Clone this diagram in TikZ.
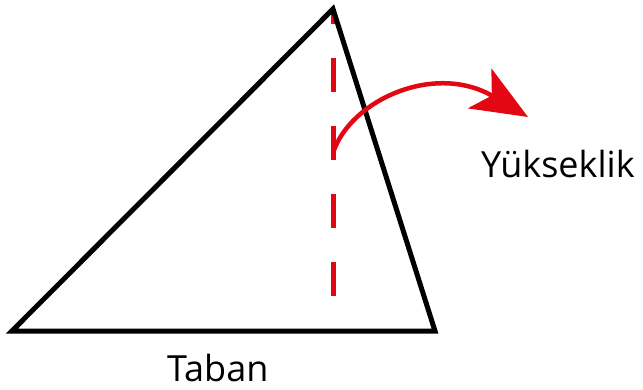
\documentclass[tikz,border=0pt]{standalone}
\usepackage{fontspec}
\setmainfont{Open Sans}
\usetikzlibrary{arrows.meta}
\definecolor{hred}{RGB}{227,6,19}
\begin{document}
\begin{tikzpicture}[x=1pt,y=-1pt,
  edge/.style={draw=black,line width=5pt,line join=miter},
  height/.style={draw=hred,line width=5pt,dash pattern=on 34pt off 34pt,dash phase=19pt},
  pointer/.style={draw=hred,line width=4.5pt,-{Stealth[length=56pt,width=46pt,inset=14pt]}},
  label/.style={inner sep=0pt,anchor=base west,text=black,text depth=0pt}]
\useasboundingbox (0,0) rectangle (643,390);
\coordinate (A) at (333,9);
\coordinate (B) at (12,331);
\coordinate (C) at (435,331);
\coordinate (H) at (333,333);
\coordinate (S) at (333,153);
\coordinate (T) at (528,117);
\draw[height] (A) -- (H);
\draw[edge] (B) -- (A) -- (C) -- cycle;
\draw[pointer] (S) .. controls (350,100) and (435,62) .. (T);
\node[label,font=\fontsize{36}{39}\selectfont] (taban) at (167,381) {Taban};
\node[label,font=\fontsize{36}{39}\selectfont] (yuk) at (481,178) {Yükseklik};
\end{tikzpicture}
\end{document}
